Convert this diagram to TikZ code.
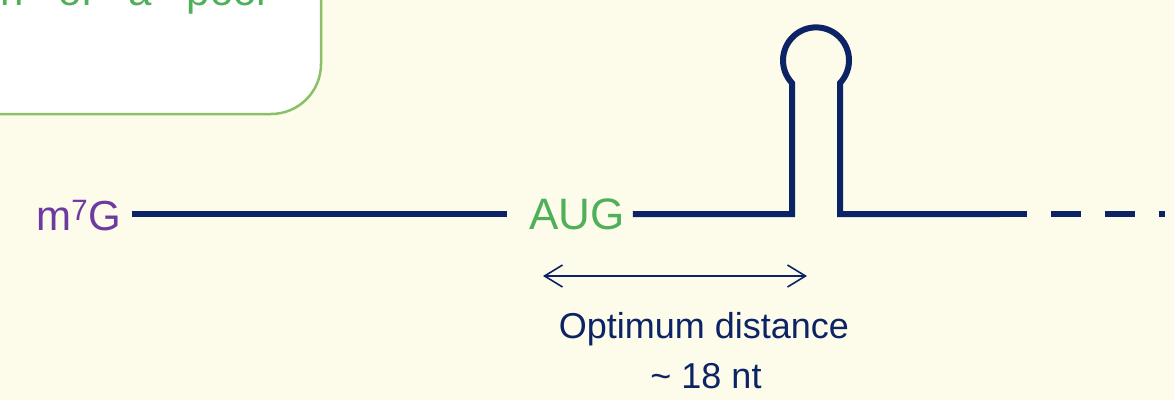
\documentclass[tikz,border=0pt]{standalone}
\usepackage{fontspec}
\setmainfont{Liberation Sans}
\usetikzlibrary{arrows.meta}
\definecolor{cream}{RGB}{253,251,233}
\definecolor{navy}{RGB}{12,36,102}
\definecolor{leaf}{RGB}{78,176,88}
\definecolor{boxline}{RGB}{140,192,104}
\definecolor{capcol}{RGB}{108,58,160}
\tikzset{
  rna/.style={navy,line width=6pt},
  txt/.style={inner sep=0pt,font=\fontsize{#1}{#1}\selectfont},
  gap/.style={<->,>={Straight Barb[length=18pt,width=22pt,line width=1.6pt]},navy,line width=1.6pt}
}
\begin{document}
\begin{tikzpicture}[x=1pt,y=-1pt]
\useasboundingbox (0,0) rectangle (1174,400);
\clip (0,0) rectangle (1174,400);
\fill[cream] (0,0) rectangle (1174,400);

% note box, cut off by the frame
\draw[boxline,fill=white,line width=2.5pt,rounded corners=50pt] (-80,-200) rectangle (321,114);
\node[txt=42,anchor=base west,text=leaf] (note) at (0,5) {\spaceskip=35pt\relax n of a poor};

\coordinate (spine) at (0,214);
\node[txt=42,anchor=base east,text=capcol] (cap) at (121,230) {m\textsuperscript{7}G};
\node[txt=44,anchor=base,text=leaf] (aug) at (577,229) {AUG};

\coordinate (stemL) at (792,214);
\coordinate (stemR) at (840,214);
\coordinate (tail) at (1000,214);
\coordinate (end) at (1165,214);

\draw[rna] ([xshift=11pt]cap.east |- spine) -- ([xshift=-22pt]aug.west |- spine);
\draw[rna] ([xshift=8pt]aug.east |- spine) -- (stemL) -- (792,83)
  arc[start angle=136.7,end angle=403.3,radius=33] -- (stemR) -- (tail);
\draw[rna,dash pattern=on 30pt off 24pt,dash phase=3pt] (tail) -- (end);

\coordinate (d0) at (543,276);
\coordinate (d1) at (807,276);
\draw[gap] (d0) -- (d1);
\node[txt=36,anchor=base,text=navy] (dist) at (704,338) {Optimum distance};
\node[txt=36,anchor=base,text=navy] (nt) at (706,388) {\textasciitilde\ 18 nt};
\end{tikzpicture}
\end{document}
